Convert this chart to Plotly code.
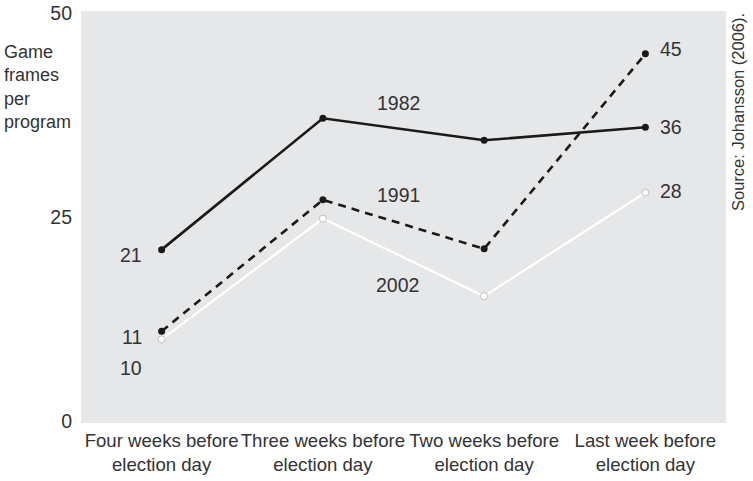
import plotly.graph_objects as go

categories = ["Four weeks before<br>election day", "Three weeks before<br>election day",
              "Two weeks before<br>election day", "Last week before<br>election day"]
xpos = [0, 1, 2, 3]
y1982 = [21, 37.1, 34.4, 36]
y1991 = [11, 27.1, 21.1, 45]
y2002 = [10, 24.8, 15.3, 28]
yticks = [0, 25, 50]

TXT = "#333333"
FONT = "Liberation Sans, Arial, sans-serif"
NUM = 19.5

fig = go.Figure()
fig.add_trace(go.Scatter(x=xpos, y=y2002, mode="lines+markers",
                         line=dict(color="white", width=2.2),
                         marker=dict(color="white", size=7, line=dict(color="#999", width=0.6))))
fig.add_trace(go.Scatter(x=xpos, y=y1991, mode="lines+markers",
                         line=dict(color="#1a1a1a", width=2.6, dash="8px,6px"),
                         marker=dict(color="#1a1a1a", size=7)))
fig.add_trace(go.Scatter(x=xpos, y=y1982, mode="lines+markers",
                         line=dict(color="#1a1a1a", width=2.6),
                         marker=dict(color="#1a1a1a", size=7)))

def ann(x, y, text, xanchor="center"):
    fig.add_annotation(x=x, y=y, text=text, showarrow=False, xanchor=xanchor,
                       yanchor="middle", font=dict(size=NUM, color=TXT, family=FONT))

ann(-0.11, 20.3, "21", "right")
ann(-0.11, 10.3, "11", "right")
ann(-0.11, 6.5, "10", "right")
ann(1.47, 39.0, "1982")
ann(1.47, 27.7, "1991")
ann(1.46, 16.7, "2002")
ann(3.08, 45.6, "45", "left")
ann(3.08, 36.0, "36", "left")
ann(3.08, 28.2, "28", "left")

fig.add_annotation(xref="paper", yref="paper", x=-79/645, y=(423-40)/412,
                   text="Game<br>frames<br>per<br>program", showarrow=False,
                   xanchor="left", yanchor="top", align="left",
                   font=dict(size=18, color=TXT, family=FONT))
fig.add_annotation(xref="paper", yref="paper", x=(738-81)/645, y=1 - 0/412,
                   text="Source: Johansson (2006).", showarrow=False, textangle=-90,
                   xanchor="center", yanchor="top",
                   font=dict(size=16.5, color=TXT, family=FONT))

fig.update_layout(
    width=753, height=481,
    margin=dict(l=81, r=27, t=11, b=58, autoexpand=False),
    paper_bgcolor="white", plot_bgcolor="#e6e7e8",
    showlegend=False,
    font=dict(family=FONT, color=TXT, size=18),
)
fig.update_xaxes(range=[-0.5, 3.5], tickvals=xpos, ticktext=categories,
                 showgrid=False, zeroline=False, showline=False, ticks="", automargin=False,
                 ticklabelstandoff=4,
                 tickfont=dict(size=18.6, color=TXT, family=FONT))
fig.update_yaxes(range=[-0.25, 50.25], tickvals=yticks, showgrid=False, zeroline=False,
                 showline=False, ticks="", ticklabelstandoff=8, automargin=False,
                 tickfont=dict(size=NUM, color=TXT, family=FONT))

fig.write_html("out.html", config={"displayModeBar": False},
               post_script="document.body.style.margin='0px';")
